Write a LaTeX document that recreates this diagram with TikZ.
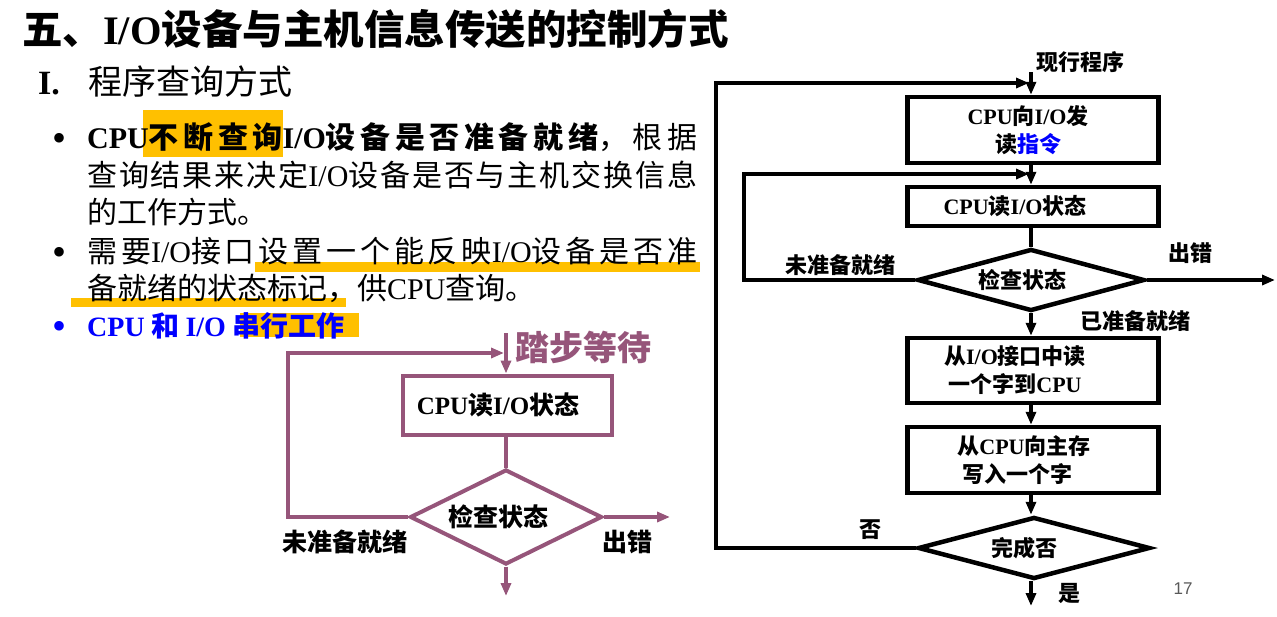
\documentclass[tikz,border=0pt]{standalone}
\usepackage{fontspec}
\setmainfont{Noto Sans CJK SC}
\newfontfamily\en{Liberation Serif}
\newfontfamily\ensf{Liberation Sans}
\usetikzlibrary{shapes.geometric,arrows.meta}
\definecolor{pur}{RGB}{150,85,122}
\definecolor{hl}{RGB}{255,192,0}
\definecolor{bl}{RGB}{0,0,255}
\definecolor{pg}{RGB}{89,89,89}
\newcommand\E[1]{\mbox{\en #1}}
\newcommand\fs[1]{\fontsize{#1}{#1}\selectfont}
\newcommand\jline[1]{\parbox[b]{610pt}{\tolerance=10000\parfillskip=0pt\relax #1}}
\XeTeXlinebreaklocale "zh"
\XeTeXlinebreakskip=0pt plus 8pt
\begin{document}
\begin{tikzpicture}[x=1pt,y=-1pt,
  txt/.style={anchor=base west, inner sep=0pt},
  lline/.style={draw=pur, line width=4pt},
  rline/.style={draw=black, line width=4.5pt},
  arr/.style={-{Triangle[length=13pt,width=10pt]}},
  lboxs/.style={draw=pur, line width=4pt, rectangle, inner sep=0pt, font=\fs{25}\bfseries},
  ldias/.style={draw=pur, line width=4pt, diamond, aspect=2, inner sep=0pt, font=\fs{25}\bfseries},
  rboxs/.style={draw=black, line width=4.5pt, rectangle, inner sep=0pt, minimum width=251pt, font=\fontsize{22}{28}\selectfont\bfseries, align=center},
  rdias/.style={draw=black, line width=4.5pt, diamond, aspect=3.6, inner sep=0pt, font=\fs{22}\bfseries},
  rlab/.style={inner sep=0pt, font=\fs{22}\bfseries},
  llab/.style={inner sep=0pt, font=\fs{25}\bfseries},
  bul/.style={anchor=base, inner sep=0pt, font=\fs{40}\en}
]
\useasboundingbox (0,0) rectangle (1277,616);
\fill[white] (0,0) rectangle (1277,616);

% highlights
\fill[hl] (143,110) rectangle (283,157);
\fill[hl] (255,262) rectangle (700,272);
\fill[hl] (71,298) rectangle (346,307);
\fill[hl] (240,313) rectangle (359,337);

% title
\node[txt] (title) at (22,44) {\fs{40.5}\bfseries 五、\E{I/O}设备与主机信息传送的控制方式};
\node[txt] (subnum) at (38,94) {\fs{34}\en\bfseries I.};
\node[txt] (sub) at (88,94) {\fs{34}程序查询方式};

% bullets
\node[bul] (b1) at (60,151) {•};
\node[bul] (b2) at (60,265) {•};
\node[bul, text=bl] (b3) at (60,339) {•};

\node[txt] (l1) at (87,148) {\fs{30}\jline{{\bfseries\E{CPU}不断查询\E{I/O}设备是否准备就绪}，根据}};
\node[txt] (l2) at (87,186) {\fs{30}\jline{查询结果来决定\E{I/O}设备是否与主机交换信息}};
\node[txt] (l3) at (87,223) {\fs{30}的工作方式。};
\node[txt] (l4) at (87,262) {\fs{30}\jline{需要\E{I/O}接口设置一个能反映\E{I/O}设备是否准}};
\node[txt] (l5) at (87,299) {\fs{30}备就绪的状态标记，供\E{CPU}查询。};
\node[txt, text=bl] (l6) at (87,336) {\fs{28}\bfseries\E{CPU} 和 \E{I/O} 串行工作};

% left flowchart
\coordinate (lin) at (506,333);
\coordinate (lj) at (504,353);
\coordinate (lloop) at (288,353);
\coordinate (lerr) at (670,517);
\coordinate (lout) at (506,596);
\node[lboxs, minimum width=209pt, minimum height=59pt] (lb) at (507,405) {\hspace*{-18pt}\E{CPU}读\E{I/O}状态};
\node[ldias, minimum width=192pt, minimum height=95pt] (ld) at (506,517) {\hspace*{-16pt}检查状态};
\draw[lline, arr] (lin) -- (lin |- lb.north);
\draw[lline] (lin |- lb.south) -- (ld.north);
\draw[lline, arr] (ld.west) -| (lloop) -- (lj);
\draw[lline, arr] (ld.east) -- (lerr);
\draw[lline, arr] (ld.south) -- (lout);
\node[inner sep=0pt, text=pur, font=\fs{34}\bfseries] (wait) at (583,347) {踏步等待};
\node[llab] (lnr) at (345,542) {未准备就绪};
\node[llab] (lerrl) at (627,542) {出错};

% right flowchart
\coordinate (rin) at (1031,72);
\coordinate (rj1) at (1029,83);
\coordinate (rj2) at (1029,174);
\coordinate (rlo) at (716,83);
\coordinate (rli) at (744,174);
\coordinate (rerr) at (1275,280);
\coordinate (rout) at (1031,606);
\node[rboxs, minimum height=66pt] (rb1) at (1033,130) {\hspace*{-10pt}\E{CPU}向\E{I/O}发\\\hspace*{-10pt}读{\color{bl}指令}};
\node[rboxs, minimum height=39pt] (rb2) at (1033,206.5) {\hspace*{-36pt}\E{CPU}读\E{I/O}状态};
\node[rdias, minimum width=227pt, minimum height=62pt] (rd1) at (1031,280) {\hspace*{-18pt}检查状态};
\node[rboxs, minimum height=65pt] (rb3) at (1033,370.5) {\hspace*{-36pt}从\E{I/O}接口中读\\\hspace*{-36pt}一个字到\E{CPU}};
\node[rboxs, minimum height=66pt] (rb4) at (1033,460) {\hspace*{-18pt}从\E{CPU}向主存\\\hspace*{-32pt}写入一个字};
\node[rdias, minimum width=232pt, minimum height=62pt] (rd2) at (1034,548) {\hspace*{-20pt}完成否};

\draw[rline, arr] (rin) -- (rin |- rb1.north);
\draw[rline, arr] (rin |- rb1.south) -- (rin |- rb2.north);
\draw[rline] (rin |- rb2.south) -- (rin |- rd1.north);
\draw[rline, arr] (rin |- rd1.south) -- (rin |- rb3.north);
\draw[rline, arr] (rin |- rb3.south) -- (rin |- rb4.north);
\draw[rline, arr] (rin |- rb4.south) -- (rin |- rd2.north);
\draw[rline, arr] (rin |- rd2.south) -- (rout);
\draw[rline, arr] (rd1.west) -| (rli) -- (rj2);
\draw[rline, arr] (rd2.west) -| (rlo) -- (rj1);
\draw[rline, arr] (rd1.east) -- (rerr);

\node[rlab] (cur) at (1080,62) {现行程序};
\node[rlab] (rnr) at (840,265) {未准备就绪};
\node[rlab] (rerrl) at (1190,253) {出错};
\node[rlab] (rready) at (1135,321) {已准备就绪};
\node[rlab] (rno) at (870,530) {否};
\node[rlab] (ryes) at (1069,593) {是};
\node[inner sep=0pt, text=pg, font=\fs{17}\ensf] (pgnum) at (1183,589) {17};
\end{tikzpicture}
\end{document}
